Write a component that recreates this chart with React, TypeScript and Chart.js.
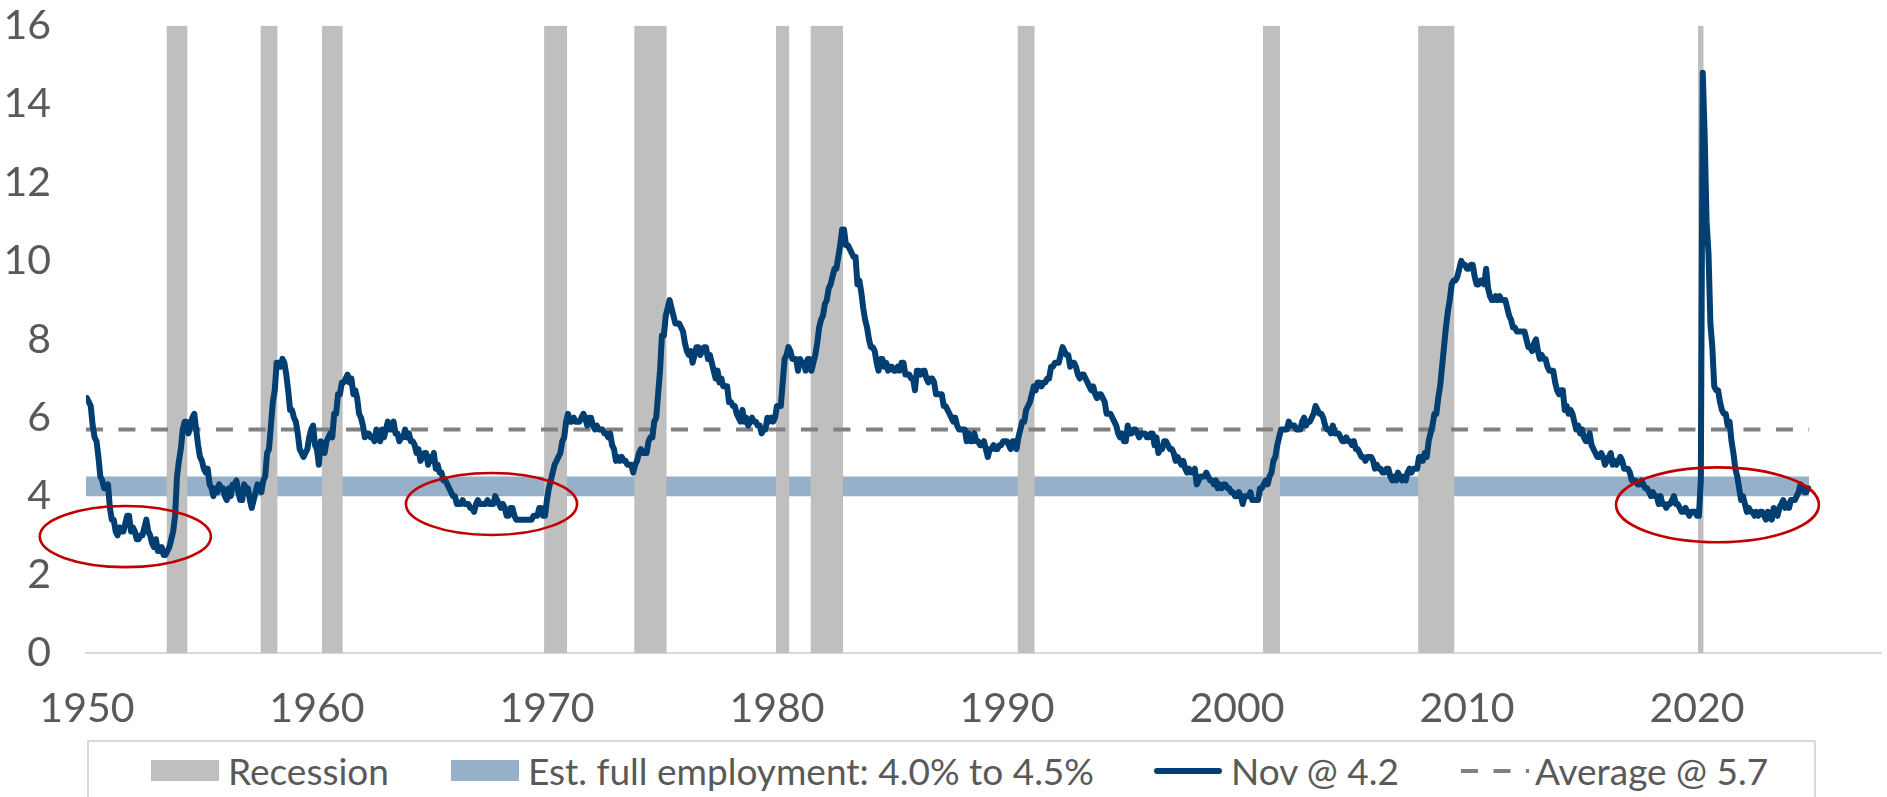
import React, { useEffect, useRef } from "react";
import { Chart, registerables } from "chart.js";

Chart.register(...registerables);

// Monthly unemployment rate (%), Jan of first year of each decade onward
const ur1950s = [
  6.5, 6.4, 6.3, 5.8, 5.5, 5.4, 5.0, 4.5, 4.4, 4.2, 4.2, 4.3,
  3.7, 3.4, 3.4, 3.1, 3.0, 3.2, 3.1, 3.1, 3.3, 3.5, 3.5, 3.1,
  3.2, 3.1, 2.9, 2.9, 3.0, 3.0, 3.2, 3.4, 3.1, 3.0, 2.8, 2.7,
  2.9, 2.6, 2.6, 2.7, 2.5, 2.5, 2.6, 2.7, 2.9, 3.1, 3.5, 4.5,
  4.9, 5.2, 5.7, 5.9, 5.9, 5.6, 5.8, 6.0, 6.1, 5.7, 5.3, 5.0,
  4.9, 4.7, 4.6, 4.7, 4.3, 4.2, 4.0, 4.2, 4.1, 4.3, 4.2, 4.2,
  4.0, 3.9, 4.2, 4.0, 4.3, 4.3, 4.4, 4.1, 3.9, 3.9, 4.3, 4.2,
  4.2, 3.9, 3.7, 3.9, 4.1, 4.3, 4.2, 4.1, 4.4, 4.5, 5.1, 5.2,
  5.8, 6.4, 6.7, 7.4, 7.4, 7.3, 7.5, 7.4, 7.1, 6.7, 6.2, 6.2,
  6.0, 5.9, 5.6, 5.2, 5.1, 5.0, 5.1, 5.2, 5.5, 5.7, 5.8, 5.3,
];
const ur1960s = [
  5.2, 4.8, 5.4, 5.2, 5.1, 5.4, 5.5, 5.6, 5.5, 6.1, 6.1, 6.6,
  6.6, 6.9, 6.9, 7.0, 7.1, 6.9, 7.0, 6.6, 6.7, 6.5, 6.1, 6.0,
  5.8, 5.5, 5.6, 5.6, 5.5, 5.5, 5.4, 5.7, 5.6, 5.4, 5.7, 5.5,
  5.7, 5.9, 5.7, 5.7, 5.9, 5.6, 5.6, 5.4, 5.5, 5.5, 5.7, 5.5,
  5.6, 5.4, 5.4, 5.3, 5.1, 5.2, 4.9, 5.0, 5.1, 5.1, 4.8, 5.0,
  4.9, 5.1, 4.7, 4.8, 4.6, 4.6, 4.4, 4.4, 4.3, 4.2, 4.1, 4.0,
  4.0, 3.8, 3.8, 3.8, 3.9, 3.8, 3.8, 3.8, 3.7, 3.7, 3.6, 3.8,
  3.9, 3.8, 3.8, 3.8, 3.8, 3.9, 3.8, 3.8, 3.8, 4.0, 3.9, 3.8,
  3.7, 3.8, 3.7, 3.5, 3.5, 3.7, 3.7, 3.5, 3.4, 3.4, 3.4, 3.4,
  3.4, 3.4, 3.4, 3.4, 3.4, 3.5, 3.5, 3.5, 3.7, 3.7, 3.5, 3.5,
];
const ur1970s = [
  3.9, 4.2, 4.4, 4.6, 4.8, 4.9, 5.0, 5.1, 5.4, 5.5, 5.9, 6.1,
  5.9, 5.9, 6.0, 5.9, 5.9, 5.9, 6.0, 6.1, 6.0, 5.8, 6.0, 6.0,
  5.8, 5.7, 5.8, 5.7, 5.7, 5.7, 5.6, 5.6, 5.5, 5.6, 5.3, 5.2,
  4.9, 5.0, 4.9, 5.0, 4.9, 4.9, 4.8, 4.8, 4.8, 4.6, 4.8, 4.9,
  5.1, 5.2, 5.1, 5.1, 5.1, 5.4, 5.5, 5.5, 5.9, 6.0, 6.6, 7.2,
  8.1, 8.1, 8.6, 8.8, 9.0, 8.8, 8.6, 8.4, 8.4, 8.4, 8.3, 8.2,
  7.9, 7.7, 7.6, 7.7, 7.4, 7.6, 7.8, 7.8, 7.6, 7.7, 7.8, 7.8,
  7.5, 7.6, 7.4, 7.2, 7.0, 7.2, 6.9, 7.0, 6.8, 6.8, 6.8, 6.4,
  6.4, 6.3, 6.3, 6.1, 6.0, 5.9, 6.2, 5.9, 6.0, 5.8, 5.9, 6.0,
  5.9, 5.9, 5.8, 5.8, 5.6, 5.7, 5.7, 6.0, 5.9, 6.0, 5.9, 6.0,
];
const ur1980s = [
  6.3, 6.3, 6.3, 6.9, 7.5, 7.6, 7.8, 7.7, 7.5, 7.5, 7.5, 7.2,
  7.5, 7.4, 7.4, 7.2, 7.5, 7.5, 7.2, 7.4, 7.6, 7.9, 8.3, 8.5,
  8.6, 8.9, 9.0, 9.3, 9.4, 9.6, 9.8, 9.8, 10.1, 10.4, 10.8, 10.8,
  10.4, 10.4, 10.3, 10.2, 10.1, 10.1, 9.4, 9.5, 9.2, 8.8, 8.5, 8.3,
  8.0, 7.8, 7.8, 7.7, 7.4, 7.2, 7.5, 7.5, 7.3, 7.4, 7.2, 7.3,
  7.3, 7.2, 7.2, 7.3, 7.2, 7.4, 7.4, 7.1, 7.1, 7.1, 7.0, 7.0,
  6.7, 7.2, 7.2, 7.1, 7.2, 7.2, 7.0, 6.9, 7.0, 7.0, 6.9, 6.6,
  6.6, 6.6, 6.6, 6.3, 6.3, 6.2, 6.1, 6.0, 5.9, 6.0, 5.8, 5.7,
  5.7, 5.7, 5.7, 5.4, 5.6, 5.4, 5.4, 5.6, 5.4, 5.4, 5.3, 5.3,
  5.4, 5.2, 5.0, 5.2, 5.2, 5.3, 5.2, 5.2, 5.3, 5.3, 5.4, 5.4,
];
const ur1990s = [
  5.4, 5.3, 5.2, 5.4, 5.4, 5.2, 5.5, 5.7, 5.9, 5.9, 6.2, 6.3,
  6.4, 6.6, 6.8, 6.7, 6.9, 6.9, 6.8, 6.9, 6.9, 7.0, 7.0, 7.3,
  7.3, 7.4, 7.4, 7.4, 7.6, 7.8, 7.7, 7.6, 7.6, 7.3, 7.4, 7.4,
  7.3, 7.1, 7.0, 7.1, 7.1, 7.0, 6.9, 6.8, 6.7, 6.8, 6.6, 6.5,
  6.6, 6.6, 6.5, 6.4, 6.1, 6.1, 6.1, 6.0, 5.9, 5.8, 5.6, 5.5,
  5.6, 5.4, 5.4, 5.8, 5.6, 5.6, 5.7, 5.7, 5.6, 5.5, 5.6, 5.6,
  5.6, 5.5, 5.5, 5.6, 5.6, 5.3, 5.5, 5.1, 5.2, 5.2, 5.4, 5.4,
  5.3, 5.2, 5.2, 5.1, 4.9, 5.0, 4.9, 4.8, 4.9, 4.7, 4.6, 4.7,
  4.6, 4.6, 4.7, 4.3, 4.4, 4.5, 4.5, 4.5, 4.6, 4.5, 4.4, 4.4,
  4.3, 4.4, 4.2, 4.3, 4.2, 4.3, 4.3, 4.2, 4.2, 4.1, 4.1, 4.0,
];
const ur2000s = [
  4.0, 4.1, 4.0, 3.8, 4.0, 4.0, 4.0, 4.1, 3.9, 3.9, 3.9, 3.9,
  4.2, 4.2, 4.3, 4.4, 4.3, 4.5, 4.6, 4.9, 5.0, 5.3, 5.5, 5.7,
  5.7, 5.7, 5.7, 5.9, 5.8, 5.8, 5.8, 5.7, 5.7, 5.7, 5.9, 6.0,
  5.8, 5.9, 5.9, 6.0, 6.1, 6.3, 6.2, 6.1, 6.1, 6.0, 5.8, 5.7,
  5.7, 5.6, 5.8, 5.6, 5.6, 5.6, 5.5, 5.4, 5.4, 5.5, 5.4, 5.4,
  5.3, 5.4, 5.2, 5.2, 5.1, 5.0, 5.0, 4.9, 5.0, 5.0, 5.0, 4.9,
  4.7, 4.8, 4.7, 4.7, 4.6, 4.6, 4.7, 4.7, 4.5, 4.4, 4.5, 4.4,
  4.6, 4.5, 4.4, 4.5, 4.4, 4.6, 4.7, 4.6, 4.7, 4.7, 4.7, 5.0,
  5.0, 4.9, 5.1, 5.0, 5.4, 5.6, 5.8, 6.1, 6.1, 6.5, 6.8, 7.3,
  7.8, 8.3, 8.7, 9.0, 9.4, 9.5, 9.5, 9.6, 9.8, 10.0, 9.9, 9.9,
];
const ur2010s = [
  9.8, 9.8, 9.9, 9.9, 9.6, 9.4, 9.4, 9.5, 9.5, 9.4, 9.8, 9.3,
  9.1, 9.0, 9.0, 9.1, 9.0, 9.1, 9.0, 9.0, 9.0, 8.8, 8.6, 8.5,
  8.3, 8.3, 8.2, 8.2, 8.2, 8.2, 8.2, 8.0, 7.8, 7.8, 7.7, 7.9,
  8.0, 7.7, 7.5, 7.6, 7.5, 7.5, 7.3, 7.2, 7.2, 7.2, 6.9, 6.7,
  6.6, 6.7, 6.7, 6.2, 6.3, 6.1, 6.2, 6.1, 5.9, 5.7, 5.8, 5.6,
  5.7, 5.5, 5.4, 5.4, 5.6, 5.3, 5.2, 5.1, 5.0, 5.0, 5.1, 5.0,
  4.8, 4.9, 5.0, 5.1, 4.8, 4.9, 4.8, 4.9, 5.0, 4.9, 4.7, 4.7,
  4.7, 4.6, 4.4, 4.4, 4.4, 4.3, 4.3, 4.4, 4.3, 4.2, 4.2, 4.1,
  4.0, 4.1, 4.0, 4.0, 3.8, 4.0, 3.8, 3.8, 3.7, 3.8, 3.8, 3.9,
  4.0, 3.8, 3.8, 3.7, 3.6, 3.6, 3.7, 3.6, 3.5, 3.6, 3.6, 3.6,
];
const ur2020s = [
  3.5, 3.5, 4.4, 14.8, 13.2, 11.0, 10.2, 8.4, 7.8, 6.8, 6.7, 6.7,
  6.4, 6.2, 6.1, 6.1, 5.8, 5.9, 5.4, 5.1, 4.7, 4.5, 4.2, 3.9,
  4.0, 3.8, 3.6, 3.7, 3.6, 3.6, 3.5, 3.6, 3.5, 3.6, 3.6, 3.5,
  3.4, 3.6, 3.5, 3.4, 3.7, 3.6, 3.5, 3.7, 3.8, 3.9, 3.7, 3.8,
  3.7, 3.9, 3.9, 3.9, 4.0, 4.1, 4.3, 4.2, 4.1, 4.1, 4.2,
];

const firstYear = 1950;
const recessionStarts = ["1953-07", "1957-08", "1960-04", "1969-12", "1973-11", "1980-01", "1981-07", "1990-07", "2001-03", "2007-12", "2020-02"];
const recessionEnds = ["1954-05", "1958-04", "1961-02", "1970-11", "1975-03", "1980-07", "1982-11", "1991-03", "2001-11", "2009-06", "2020-04"];
const recessionTop = 16;
const fullEmploymentRange = [4.0, 4.5];
const averageRate = 5.7;
const xTickYears = [1950, 1960, 1970, 1980, 1990, 2000, 2010, 2020];
const yTicks = [0, 2, 4, 6, 8, 10, 12, 14, 16];
// highlighted periods: [centre year, centre rate], [half-width years, half-height rate]
const ellipseCenters = [[1951.67, 2.97], [1967.59, 3.8], [2020.89, 3.78]];
const ellipseRadii = [[3.72, 0.78], [3.72, 0.79], [4.41, 0.955]];

const legendLabels = ["Recession", "Est. full employment: 4.0% to 4.5%", "Nov @ 4.2", "Average @ 5.7"];

const COLORS = {
  recession: "#bfbfbf",
  band: "#95b0c8",
  line: "#013e71",
  average: "#808080",
  ellipse: "#c00000",
  text: "#595959",
  axis: "#d9d9d9",
};

const HALF_MONTH = 0.5 / 12;
const monthToX = (s: string) => {
  const [y, m] = s.split("-").map(Number);
  return y + (m - 1) / 12;
};

const allValues = [...ur1950s, ...ur1960s, ...ur1970s, ...ur1980s, ...ur1990s, ...ur2000s, ...ur2010s, ...ur2020s];
const seriesPoints = allValues.map((v, i) => ({ x: firstYear + i / 12, y: v }));
const lastX = seriesPoints[seriesPoints.length - 1].x;

const ellipsePlugin = {
  id: "ellipses",
  afterDatasetsDraw(chart: any) {
    const { ctx, scales } = chart;
    const x = scales.x;
    const y = scales.y;
    ctx.save();
    ctx.strokeStyle = COLORS.ellipse;
    ctx.lineWidth = 2.6;
    ellipseCenters.forEach((c, i) => {
      const cx = x.getPixelForValue(c[0]);
      const cy = y.getPixelForValue(c[1]);
      const rx = Math.abs(x.getPixelForValue(c[0] + ellipseRadii[i][0]) - cx);
      const ry = Math.abs(y.getPixelForValue(c[1] + ellipseRadii[i][1]) - cy);
      ctx.beginPath();
      ctx.ellipse(cx, cy, rx, ry, 0, 0, Math.PI * 2);
      ctx.stroke();
    });
    ctx.restore();
  },
};

const FONT = "Lato";
const TICK_FONT_SIZE = 41;
const LEGEND_FONT_SIZE = 37;
const CANVAS_TOP = -34;
const CANVAS_HEIGHT = 769;

function Legend() {
  const swatch = { width: 68, marginRight: 9, flex: "0 0 auto" } as React.CSSProperties;
  return (
    <div
      style={{
        position: "absolute",
        left: 87,
        top: 740,
        width: 1729,
        height: 90,
        border: `2px solid ${COLORS.axis}`,
        boxSizing: "border-box",
        fontFamily: FONT,
        fontSize: LEGEND_FONT_SIZE,
        color: COLORS.text,
      }}
    >
      <div style={{ display: "flex", alignItems: "center", height: 57, paddingLeft: 62, whiteSpace: "nowrap" }}>
        <div style={{ ...swatch, height: 21, background: COLORS.recession }} />
        <span style={{ marginRight: 62 }}>{legendLabels[0]}</span>
        <div style={{ ...swatch, height: 21, background: COLORS.band }} />
        <span style={{ marginRight: 60 }}>{legendLabels[1]}</span>
        <svg width={68} height={8} style={{ ...swatch }}>
          <line x1={3} y1={4} x2={65} y2={4} stroke={COLORS.line} strokeWidth={6} strokeLinecap="round" />
        </svg>
        <span style={{ marginRight: 62 }}>{legendLabels[2]}</span>
        <svg width={68} height={8} style={{ ...swatch, marginRight: 6 }}>
          <line x1={0} y1={4} x2={68} y2={4} stroke={COLORS.average} strokeWidth={4} strokeDasharray="17 15.5" />
        </svg>
        <span>{legendLabels[3]}</span>
      </div>
    </div>
  );
}

export default function App() {
  const canvasRef = useRef<HTMLCanvasElement | null>(null);

  useEffect(() => {
    if (!canvasRef.current) return;
    const recessionSets = recessionStarts.map((s, i) => ({
      label: "Recession",
      data: [
        { x: monthToX(s) - HALF_MONTH, y: recessionTop },
        { x: monthToX(recessionEnds[i]) + HALF_MONTH, y: recessionTop },
      ],
      borderWidth: 0,
      borderColor: "rgba(0,0,0,0)",
      backgroundColor: COLORS.recession,
      fill: "origin",
      pointRadius: 0,
      order: 3,
    }));
    const chart = new Chart(canvasRef.current, {
      type: "line",
      data: {
        datasets: [
          {
            label: legendLabels[1],
            data: [
              { x: firstYear - HALF_MONTH, y: fullEmploymentRange[1] },
              { x: lastX + HALF_MONTH, y: fullEmploymentRange[1] },
            ],
            borderWidth: 0,
            borderColor: "rgba(0,0,0,0)",
            backgroundColor: COLORS.band,
            fill: { value: fullEmploymentRange[0] },
            pointRadius: 0,
            order: 4,
          } as any,
          ...recessionSets,
          {
            label: legendLabels[3],
            data: [
              { x: firstYear - HALF_MONTH, y: averageRate },
              { x: lastX + HALF_MONTH, y: averageRate },
            ],
            borderColor: COLORS.average,
            borderWidth: 4,
            borderDash: [17, 15.5],
            pointRadius: 0,
            fill: false,
            order: 1,
          },
          {
            label: legendLabels[2],
            data: seriesPoints,
            borderColor: COLORS.line,
            borderWidth: 6,
            borderJoinStyle: "round",
            borderCapStyle: "round",
            pointRadius: 0,
            fill: false,
            tension: 0,
            order: 0,
          },
        ] as any,
      },
      options: {
        animation: false,
        responsive: false,
        maintainAspectRatio: false,
        layout: { autoPadding: false, padding: { left: 0, right: 6, top: 0, bottom: 0 } },
        plugins: { legend: { display: false }, tooltip: { enabled: false } },
        scales: {
          x: {
            type: "linear",
            min: firstYear - 0.04,
            max: 2028,
            grid: { display: false, drawTicks: false },
            border: { display: true, color: COLORS.axis, width: 2 },
            afterBuildTicks: (axis: any) => {
              axis.ticks = xTickYears.map((v) => ({ value: v }));
            },
            afterFit: (axis: any) => {
              axis.height = 82;
            },
            ticks: {
              autoSkip: false,
              maxRotation: 0,
              padding: 31,
              color: COLORS.text,
              font: { family: FONT, size: TICK_FONT_SIZE },
              callback: (v: any) => String(v),
            },
          },
          y: {
            min: 0,
            max: 16,
            grid: { display: false, drawTicks: false },
            border: { display: false },
            afterBuildTicks: (axis: any) => {
              axis.ticks = yTicks.map((v) => ({ value: v }));
            },
            afterFit: (axis: any) => {
              axis.width = 86;
            },
            ticks: {
              padding: 35,
              color: COLORS.text,
              font: { family: FONT, size: TICK_FONT_SIZE },
              callback: (v: any) => String(v),
            },
          },
        },
      } as any,
      plugins: [ellipsePlugin],
    });
    return () => chart.destroy();
  }, []);

  return (
    <div style={{ position: "absolute", left: 0, top: 0, width: 1887, height: 797, overflow: "hidden", background: "#fff" }}>
      <canvas
        ref={canvasRef}
        width={1887}
        height={CANVAS_HEIGHT}
        style={{ position: "absolute", left: 0, top: CANVAS_TOP, width: 1887, height: CANVAS_HEIGHT }}
      />
      <Legend />
    </div>
  );
}
